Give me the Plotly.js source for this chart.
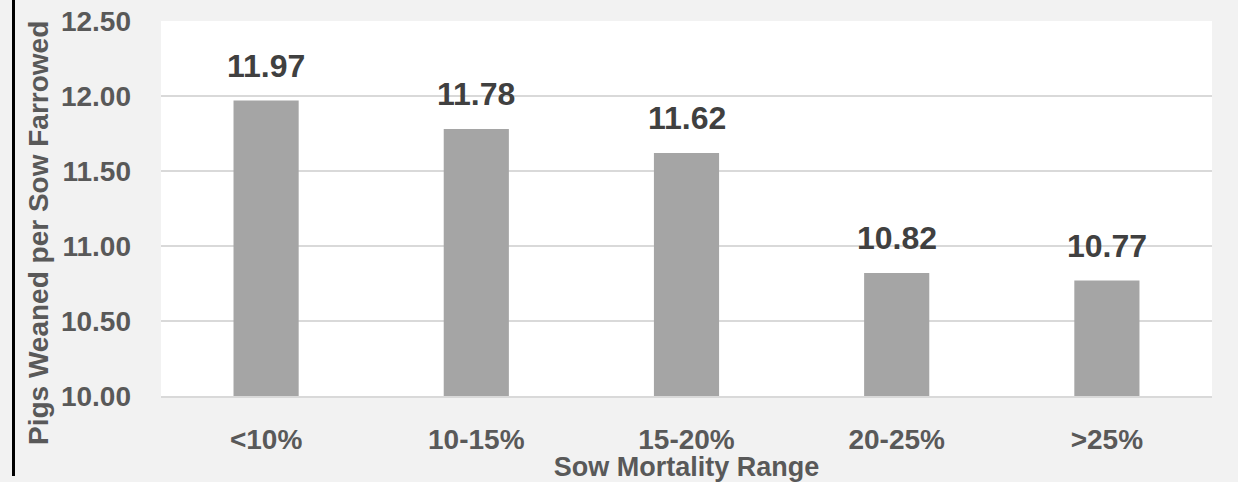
<!DOCTYPE html>
<html>
<head>
<meta charset="utf-8">
<script src="https://cdn.plot.ly/plotly-3.0.1.min.js"></script>
<style>
html,body{margin:0;padding:0;background:#f2f2f2;}
#chart{width:1238px;height:482px;}
</style>
</head>
<body>
<div id="chart"></div>
<script>
var categories = ["<10%", "10-15%", "15-20%", "20-25%", ">25%"];
var values = [11.97, 11.78, 11.62, 10.82, 10.77];
var yTitle = "Pigs Weaned per Sow Farrowed";
var xTitle = "Sow Mortality Range";

var FONT = "Liberation Sans, Arial, sans-serif";

var trace = {
  type: "bar",
  x: categories,
  y: values,
  marker: {color: "#a5a5a5"},
  hoverinfo: "skip"
};

var annotations = categories.map(function(c, i) {
  return {
    x: c, y: values[i], xref: "x", yref: "y",
    text: "<b>" + values[i].toFixed(2) + "</b>",
    showarrow: false, yanchor: "bottom", yshift: 15,
    font: {family: FONT, size: 32, color: "#404040"}
  };
});

annotations.push({
  xref: "paper", yref: "paper",
  x: (38 - 161) / 1051, y: (396 - 233) / 375,
  xanchor: "center", yanchor: "middle",
  textangle: -90, showarrow: false,
  text: "<b>" + yTitle + "</b>",
  font: {family: FONT, size: 28, color: "#595959"}
});

var layout = {
  width: 1238, height: 482,
  margin: {l: 161, r: 26, t: 21, b: 86},
  paper_bgcolor: "#f2f2f2",
  plot_bgcolor: "#ffffff",
  showlegend: false,
  bargap: 0.69,
  font: {family: FONT},
  xaxis: {
    type: "category",
    showgrid: false,
    showline: true, linecolor: "#d9d9d9", linewidth: 2,
    ticks: "",
    ticklabelstandoff: 17,
    tickfont: {family: FONT, size: 28, color: "#595959", weight: "bold"},
    title: {text: "<b>" + xTitle + "</b>", standoff: 0,
            font: {family: FONT, size: 27, color: "#595959"}}
  },
  yaxis: {
    range: [10, 12.5], dtick: 0.5, tick0: 10,
    tickformat: ".2f",
    showgrid: true, gridcolor: "#d9d9d9", gridwidth: 2,
    zeroline: false, showline: false,
    ticks: "",
    ticklabelstandoff: 29,
    tickfont: {family: FONT, size: 28, color: "#595959", weight: "bold"}
  },
  annotations: annotations,
  shapes: [{
    type: "line", xref: "paper", yref: "paper",
    x0: (13.5 - 161) / 1051, x1: (13.5 - 161) / 1051,
    y0: (396 - 0) / 375, y1: (396 - 476) / 375,
    line: {color: "#000000", width: 3}
  }]
};

Plotly.newPlot("chart", [trace], layout, {displayModeBar: false, staticPlot: true});
</script>
</body>
</html>
